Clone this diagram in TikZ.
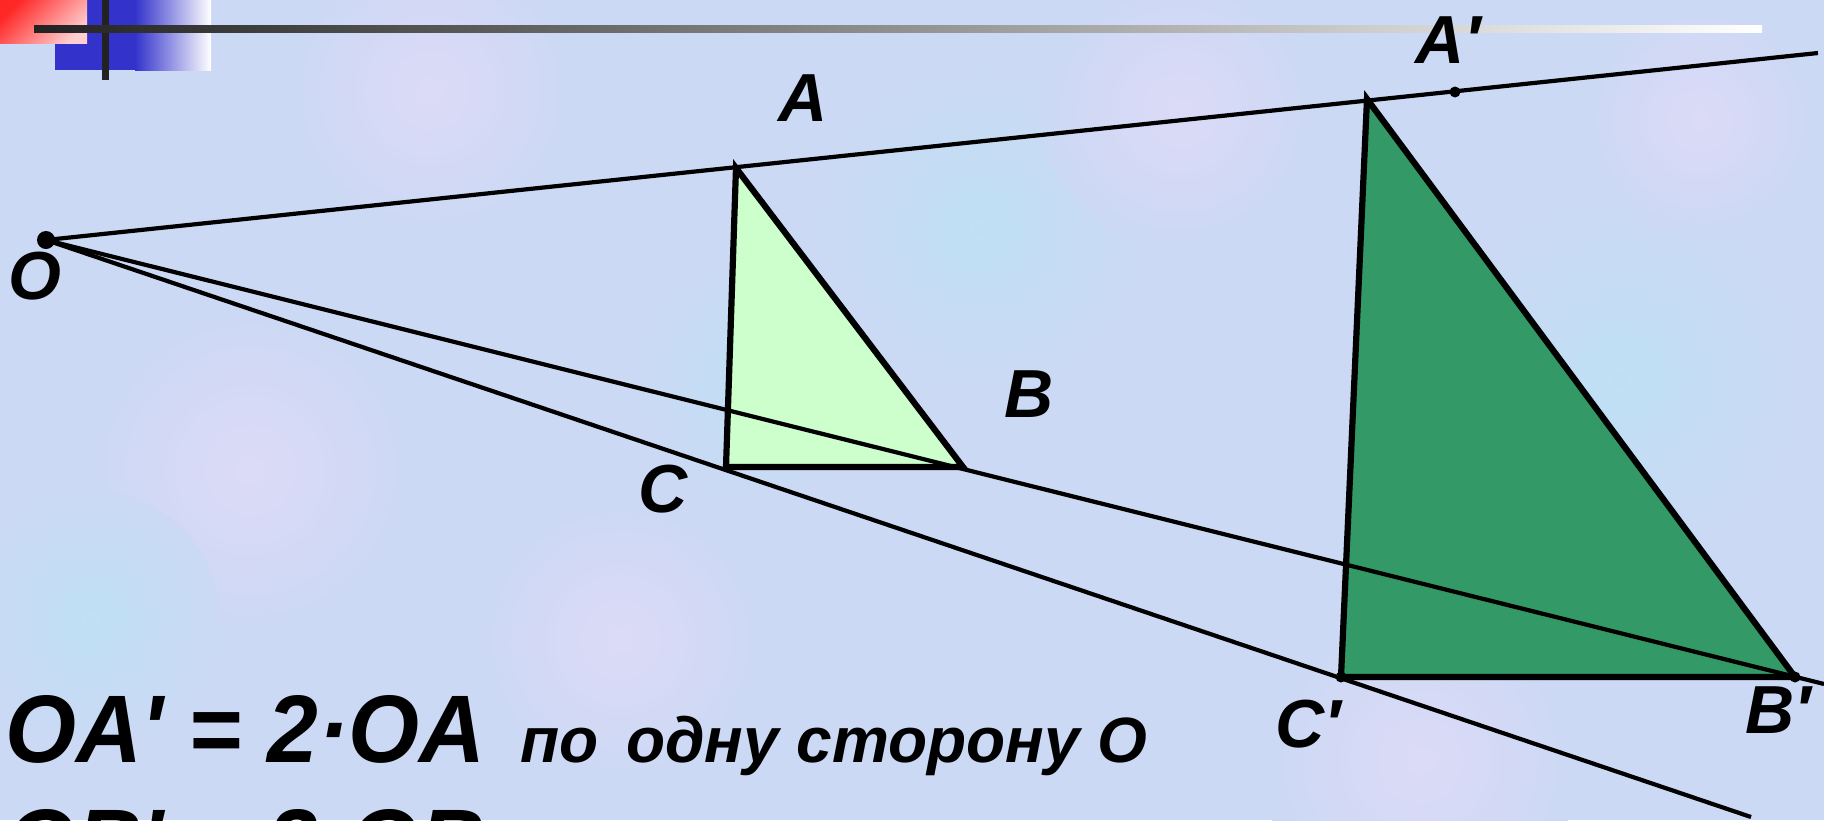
\documentclass[tikz,border=0pt]{standalone}
\usepackage{fontspec}
\newfontfamily\slidefont{Liberation Sans}
\definecolor{bgcol}{HTML}{CBD9F4}
\definecolor{bgcol2}{HTML}{DCDAF7}
\definecolor{bgcol3}{HTML}{BFE0F4}
\definecolor{smallcol}{HTML}{CCFFCC}
\definecolor{bigcol}{HTML}{339966}
\definecolor{redcol1}{HTML}{FF2626}
\definecolor{redcol2}{HTML}{FFCFCF}
\definecolor{bluecol}{HTML}{3333CC}
\definecolor{barcol}{HTML}{222222}
\tikzset{
  ray/.style={line width=4.2pt},
  tri/.style={line width=6.2pt,line join=miter},
  lbl/.style={inner sep=0pt,font=\slidefont\bfseries\itshape\fontsize{68}{80}\selectfont},
  eqtext/.style={inner sep=0pt,anchor=base west,xscale=0.95,font=\slidefont\bfseries\itshape\fontsize{96}{110}\selectfont},
  notetext/.style={inner sep=0pt,anchor=base west,font=\slidefont\bfseries\itshape\fontsize{64}{78}\selectfont}
}
\begin{document}
\begin{tikzpicture}[x=1pt,y=-1pt]
\path[use as bounding box] (0,0) rectangle (1824,820);
\clip (0,0) rectangle (1824,820);
\fill[bgcol] (0,0) rectangle (1824,820);
\foreach \x/\y/\r/\col in {430/90/150/bgcol2, 250/470/170/bgcol2, 980/230/160/bgcol3,
  1180/110/140/bgcol2, 1620/380/180/bgcol3, 620/640/150/bgcol2, 1420/760/160/bgcol2,
  90/620/130/bgcol3, 760/380/120/bgcol3, 1700/120/120/bgcol2}
  \shade[inner color=\col,outer color=bgcol] (\x,\y) circle[radius=\r pt];

\fill[bluecol] (55,0) rectangle (135,70);
\shade[left color=bluecol,right color=white] (135,0) rectangle (211,70);
\shade[left color=redcol1,right color=redcol2,shading angle=45] (0,0) rectangle (87,43);
\fill[barcol] (102,0) rectangle (109,80);
\shade[left color=barcol,right color=white] (34,25) rectangle (1762,32);

\coordinate (O) at (46,240);
\coordinate (A) at (736,168);
\coordinate (B) at (963,467);
\coordinate (C) at (726,467);
\coordinate (A1) at (1367,99);
\coordinate (B1) at (1795,677);
\coordinate (C1) at (1341,677);
\coordinate (Adot) at (1455,92);
\coordinate (endA) at (1818,53);
\coordinate (endB) at (1824,684);
\coordinate (endC) at (1751,817);

\filldraw[tri,fill=smallcol] (A) -- (B) -- (C) -- cycle;
\filldraw[tri,fill=bigcol] (A1) -- (B1) -- (C1) -- cycle;
\draw[ray] (O) -- (endA);
\draw[ray] (O) -- (endB);
\draw[ray] (O) -- (endC);

\fill (O) circle[radius=9pt];
\foreach \p in {Adot,B1,C1}
  \fill (\p) circle[radius=5.5pt];

\foreach \nm/\txt/\x/\y in {lA/A/803/98, lB/B/1029/394, lC/C/663/489, lO/O/35/276,
  lA1/A′/1448/40, lB1/B′/1778/710, lC1/C′/1308/724}
  \node[lbl] (\nm) at (\x,\y) {\txt};

\node[eqtext] (eqA) at (5,762) {OA' = 2·OA};
\node[notetext] (note) at (520,762) {по\hspace{10pt} одну сторону О};
\node[eqtext] (eqB) at (5,876) {OB' = 2·OB};
\end{tikzpicture}
\end{document}
